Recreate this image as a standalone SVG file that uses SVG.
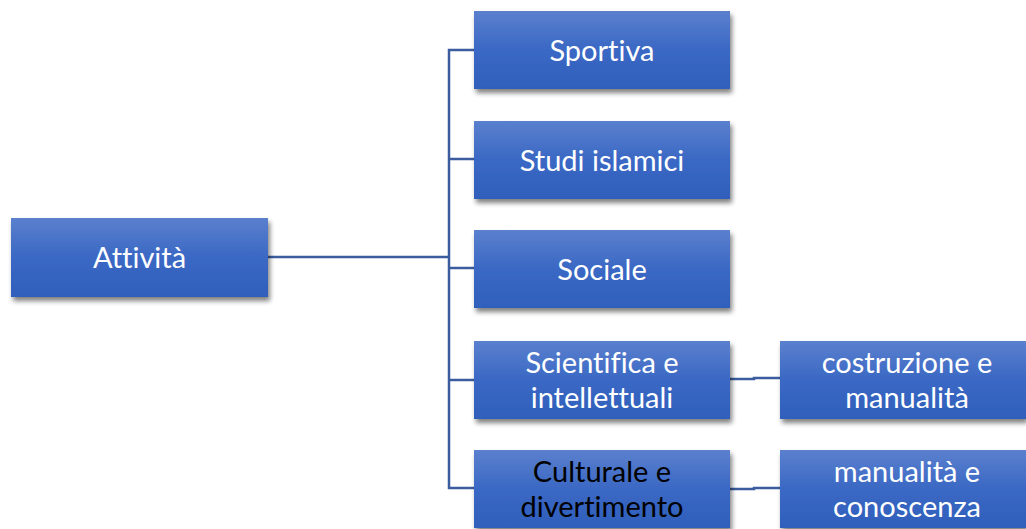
<svg xmlns="http://www.w3.org/2000/svg" width="1026" height="529" viewBox="0 0 1026 529">
<defs>
<linearGradient id="g" x1="0" y1="0" x2="0" y2="1">
<stop offset="0" stop-color="#5B80CE"/>
<stop offset="0.5" stop-color="#3A68C4"/>
<stop offset="1" stop-color="#2F5FBB"/>
</linearGradient>
<filter id="sh" x="-10%" y="-10%" width="125%" height="135%">
<feGaussianBlur in="SourceAlpha" stdDeviation="2.5"/>
<feOffset dx="2" dy="4" result="b"/>
<feComponentTransfer><feFuncA type="linear" slope="0.5"/></feComponentTransfer>
<feMerge><feMergeNode/><feMergeNode in="SourceGraphic"/></feMerge>
</filter>
</defs>
<style>
.box{fill:url(#g);filter:url(#sh)}
.t{font-family:Lato,"Open Sans","Liberation Sans",sans-serif;font-size:29px;font-variant-ligatures:none;fill:#fff;text-anchor:middle;dominant-baseline:central}
.dark{fill:#000}
.c{fill:none;stroke:#3B5C9E;stroke-width:2.5}
</style>
<rect width="1026" height="529" fill="#fff"/>
<g id="connectors">
<path class="c" d="M268 257H449"/>
<path class="c" d="M474 50H449V488H474"/>
<path class="c" d="M449 159H474"/>
<path class="c" d="M449 268H474"/>
<path class="c" d="M449 380H474"/>
<path class="c" d="M730 379H754V378H780"/>
<path class="c" d="M730 489H754V488H780"/>
</g>
<g id="n-attivita"><rect class="box" x="11" y="218" width="257" height="79"/><text class="t" x="139.5" y="256">Attività</text></g>
<g id="n-sportiva"><rect class="box" x="474" y="11" width="256" height="78"/><text class="t" x="602" y="49">Sportiva</text></g>
<g id="n-studi"><rect class="box" x="474" y="121" width="256" height="78"/><text class="t" x="602" y="159">Studi islamici</text></g>
<g id="n-sociale"><rect class="box" x="474" y="230" width="256" height="78"/><text class="t" x="602" y="268">Sociale</text></g>
<g id="n-scientifica"><rect class="box" x="474" y="341" width="256" height="78"/><text class="t" x="602" y="361">Scientifica e<tspan x="602" dy="35">intellettuali</tspan></text></g>
<g id="n-culturale"><rect class="box" x="474" y="450" width="256" height="78"/><text class="t dark" x="602" y="470">Culturale e<tspan x="602" dy="35">divertimento</tspan></text></g>
<g id="n-costruzione"><rect class="box" x="780" y="341" width="246" height="78"/><text class="t" x="907" y="361">costruzione e<tspan x="907" dy="35">manualità</tspan></text></g>
<g id="n-manualita"><rect class="box" x="780" y="450" width="246" height="78"/><text class="t" x="907" y="470">manualità e<tspan x="907" dy="35">conoscenza</tspan></text></g>
</svg>
